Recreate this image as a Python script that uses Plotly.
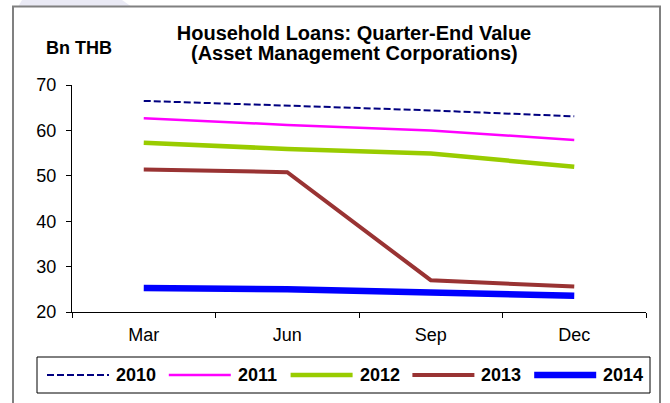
import plotly.graph_objects as go

quarters = ["Mar", "Jun", "Sep", "Dec"]
years = ["2010", "2011", "2012", "2013", "2014"]
loans_2010 = [66.5, 65.5, 64.4, 63.1]
loans_2011 = [62.7, 61.2, 60.0, 57.9]
loans_2012 = [57.3, 55.9, 54.9, 52.0]
loans_2013 = [51.4, 50.8, 27.0, 25.6]
loans_2014 = [25.3, 25.0, 24.3, 23.6]

title_main = "Household Loans: Quarter-End Value"
title_sub = "(Asset Management Corporations)"
unit_label = "Bn THB"

series = [loans_2010, loans_2011, loans_2012, loans_2013, loans_2014]
colors = ["#000080", "#FF00FF", "#99CC00", "#993333", "#0000FF"]
widths = [2, 2.5, 4.5, 4, 6.5]
dashes = ["7px,3px", "solid", "solid", "solid", "solid"]

FONT = "Liberation Sans, Arial, sans-serif"
W, H = 670, 403
L, R, T, B = 72, 24, 85, 91
PW, PH = W - L - R, H - T - B


def px_x(px):
    """Pixel column -> paper x."""
    return (px - L) / PW


def px_y(py):
    """Pixel row -> paper y."""
    return (H - B - py) / PH


fig = go.Figure()
for name, vals, c, w, d in zip(years, series, colors, widths, dashes):
    fig.add_trace(go.Scatter(
        x=quarters, y=vals, mode="lines", name=name,
        line=dict(color=c, width=w, dash=d),
    ))

fig.update_layout(
    width=W, height=H,
    margin=dict(l=L, r=R, t=T, b=B),
    paper_bgcolor="white", plot_bgcolor="white",
    font=dict(family=FONT, size=18, color="black"),
    showlegend=False,
    title=dict(
        text=f"<b>{title_main}</b>",
        x=354 / W, xanchor="center", y=1 - 33 / H, yanchor="middle",
        font=dict(family=FONT, size=20, color="black"),
    ),
    xaxis=dict(
        type="category", range=[-0.5, 3.5], tickson="boundaries",
        ticks="outside", ticklen=5, tickcolor="black",
        showline=True, linecolor="black", linewidth=1,
        showgrid=False, zeroline=False, ticklabelstandoff=6,
        tickfont=dict(size=18),
    ),
    yaxis=dict(
        range=[20, 70], dtick=10, ticks="outside", ticklen=5,
        tickcolor="black", showline=True, linecolor="black", linewidth=1,
        showgrid=False, zeroline=False, ticklabelstandoff=6,
        tickfont=dict(size=18),
    ),
)

# second title line
fig.add_annotation(
    text=f"<b>{title_sub}</b>", xref="paper", yref="paper",
    x=px_x(354), y=px_y(53), xanchor="center", yanchor="middle",
    showarrow=False, font=dict(family=FONT, size=20, color="black"),
)

fig.add_annotation(
    text=f"<b>{unit_label}</b>", xref="paper", yref="paper",
    x=px_x(79), y=px_y(48), xanchor="center", yanchor="middle",
    showarrow=False, font=dict(family=FONT, size=18, color="black"),
)

# faint tab behind the top edge of the frame
fig.add_shape(
    type="path", xref="paper", yref="paper",
    path=(f"M {px_x(18)} {px_y(7)} L {px_x(22)} {px_y(0)} "
          f"L {px_x(122)} {px_y(0)} L {px_x(132)} {px_y(7)} Z"),
    line=dict(width=0), fillcolor="#EAEAF5", layer="below",
)

# outer chart frame
fig.add_shape(
    type="rect", xref="paper", yref="paper",
    x0=px_x(13), x1=px_x(660), y0=px_y(440), y1=px_y(6.5),
    line=dict(color="#808080", width=2), fillcolor="rgba(0,0,0,0)",
)

# legend box with long line samples
fig.add_shape(
    type="rect", xref="paper", yref="paper",
    x0=px_x(37), x1=px_x(650), y0=px_y(393), y1=px_y(357),
    line=dict(color="black", width=1), fillcolor="white",
)
legend_y = px_y(375)
for i, (name, c, w, d) in enumerate(zip(years, colors, widths, dashes)):
    start = 47 + i * 121.8
    fig.add_shape(
        type="line", xref="paper", yref="paper",
        x0=px_x(start), x1=px_x(start + 62), y0=legend_y, y1=legend_y,
        line=dict(color=c, width=w, dash=d),
    )
    fig.add_annotation(
        text=f"<b>{name}</b>", xref="paper", yref="paper",
        x=px_x(start + 67), y=legend_y, xanchor="left", yanchor="middle",
        showarrow=False, font=dict(family=FONT, size=18, color="black"),
    )

fig.write_html("out.html")
